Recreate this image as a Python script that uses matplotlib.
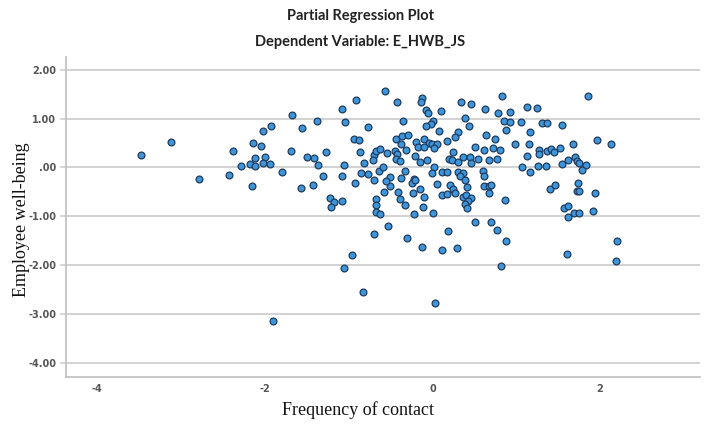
import matplotlib
matplotlib.use("Agg")
import matplotlib.pyplot as plt

# Partial regression residuals: frequency of contact (x) vs employee well-being (y)
freq_contact = [
    -3.48, -3.12, -2.78, -2.42, -2.38, -2.28, -2.15, -2.14, -2.17, -2.12,
    -2.11, -2.04, -2.02, -1.93, -2.00, -2.02, -1.94, -1.79,
    -1.67, -1.55, -1.38, -1.08, -0.91, -1.04, -0.57, -0.42, -0.77, -0.35,
    -1.69, -1.50, -1.41, -1.37, -1.27, -1.31, -1.08, -1.05, -0.94, -0.88,
    -0.86, -0.82, -0.85, -0.77, -0.70, -0.67, -0.62, -0.71, -0.64, -0.59,
    -0.54, -0.44, -0.36, -0.29, -0.37, -0.45, -0.42, -0.43, -0.39, -0.32,
    -0.33, -0.51, -0.38, -0.70,
    -1.57, -1.43, -1.22, -1.17, -1.21, -1.08, -0.92, -0.51, -0.58, -0.41,
    -0.39, -0.33, -0.67, -0.67, -0.67, -0.62, -0.53, -0.70, -0.30, -0.96,
    -1.05, -0.55,
    -1.90, -0.83, 0.03, 0.82,
    -0.12, -0.14, -0.08, -0.05, 0.10, 0.34, 0.46, 0.63, 0.78, 0.83,
    0.93, 1.13, 0.39, 0.01, -0.02, -0.08, 0.08, 0.44, 0.85, 0.93,
    1.06, 0.88, 1.16, 0.31, 0.27, 0.18, -0.19, -0.17, -0.10, -0.04,
    0.00, 0.06, -0.10, 0.02, -0.21, -0.15, -0.06, 0.02, -0.22, 0.12,
    0.17, 0.20, 0.25, 0.23, 0.31, 0.37, 0.31, 0.37, 0.45, 0.51,
    0.54, 0.46, 0.62, 0.64, 0.75, 0.72, 0.81, 0.67, 0.77, 0.98,
    1.13, 1.07, 0.60, 0.61,
    -0.24, -0.21, -0.23, -0.15, -0.10, -0.11, -0.22, 0.01, 0.05, 0.12,
    0.17, 0.21, 0.24, 0.27, 0.00, 0.33, 0.39, 0.41, 0.36, 0.40,
    0.46, 0.43, 0.39, 0.41, 0.61, 0.67, 0.70, 0.68, 0.86, 0.51,
    0.70, 0.77, 0.88, 0.19, -0.12, 0.12, 0.29,
    1.85, 1.25, 1.31, 1.37, 1.55, 1.96, 2.13, 1.15, 1.68, 1.27,
    1.27, 1.37, 1.42, 1.45, 1.52, 1.70, 1.62, 1.73, 1.75, 1.83,
    1.79, 1.54, 1.26, 1.36, 1.17,
    1.40, 1.46, 1.74, 1.72, 1.75, 1.94, 1.57, 1.62, 1.62, 1.69,
    1.75, 1.91, 2.20, 1.61, 2.19,
]
well_being = [
    0.26, 0.53, -0.24, -0.15, 0.34, 0.02, -0.38, 0.50, 0.08, 0.03,
    0.20, 0.43, 0.75, 0.84, 0.22, 0.09, 0.07, -0.10,
    1.08, 0.81, 0.95, 1.19, 1.39, 0.93, 1.57, 1.33, 0.82, 0.96,
    0.34, 0.21, 0.20, 0.05, 0.31, -0.18, -0.17, 0.04, 0.58, 0.56,
    0.31, 0.09, -0.11, -0.13, 0.25, 0.33, 0.37, 0.16, -0.07, 0.00,
    0.29, 0.58, 0.65, 0.66, 0.49, 0.33, 0.27, 0.17, 0.13, 0.35,
    -0.07, -0.19, -0.21, -0.25,
    -0.42, -0.35, -0.63, -0.70, -0.81, -0.68, -0.31, -0.39, -0.50, -0.50,
    -0.65, -0.77, -0.65, -0.76, -0.91, -0.95, -1.20, -1.36, -1.44, -1.80,
    -2.05, -0.27,
    -3.14, -2.56, -2.78, -2.01,
    1.43, 1.34, 1.17, 1.12, 1.15, 1.35, 1.29, 1.19, 1.12, 1.46,
    1.14, 1.24, 1.02, 0.96, 0.88, 0.84, 0.75, 0.84, 0.95, 0.93,
    0.93, 0.76, 0.73, 0.73, 0.63, 0.54, 0.52, 0.42, 0.59, 0.51,
    0.49, 0.47, 0.42, 0.40, 0.23, 0.11, 0.15, 0.00, -0.23, -0.09,
    -0.09, 0.18, 0.32, 0.15, 0.11, 0.22, -0.09, -0.12, 0.22, 0.42,
    0.17, 0.09, 0.35, 0.66, 0.59, 0.39, 0.35, 0.15, 0.17, 0.49,
    0.23, 0.00, -0.07, -0.17,
    -0.32, -0.25, -0.52, -0.45, -0.60, -0.82, -0.95, -0.94, -0.34, -0.57,
    -0.55, -0.36, -0.45, -0.53, -0.11, -0.18, -0.26, -0.41, -0.61, -0.57,
    -0.63, -0.69, -0.74, -0.83, -0.38, -0.38, -0.36, -0.52, -0.67, -1.11,
    -1.11, -1.29, -1.51, -1.30, -1.62, -1.70, -1.64,
    1.46, 1.21, 0.91, 0.90, 0.87, 0.56, 0.48, 0.47, 0.47, 0.35,
    0.28, 0.34, 0.37, 0.31, 0.40, 0.21, 0.15, 0.14, 0.09, 0.04,
    -0.06, 0.07, 0.03, 0.03, -0.10,
    -0.44, -0.36, -0.31, -0.48, -0.48, -0.52, -0.83, -0.79, -1.01, -0.94,
    -0.94, -0.90, -1.50, -1.78, -1.92,
]

x_ticks = [-4, -2, 0, 2]
x_tick_labels = ["-4", "-2", "0", "2"]
y_ticks = [2, 1, 0, -1, -2, -3, -4]
y_tick_labels = ["2.00", "1.00", ".00", "-1.00", "-2.00", "-3.00", "-4.00"]

fig = plt.figure(figsize=(7.09, 4.30), dpi=100)
ax = fig.add_axes([0.0931, 0.1233, 0.894, 0.744])

ax.set_xlim(-4.37, 3.19)
ax.set_ylim(-4.29, 2.26)

ax.set_yticks(y_ticks)
ax.set_yticklabels(y_tick_labels)
ax.set_xticks(x_ticks)
ax.set_xticklabels(x_tick_labels)

ax.grid(axis="y", color="#cfcfcf", linewidth=1.3)
ax.set_axisbelow(True)

ax.scatter(freq_contact, well_being, s=24, c="#3f95da",
           edgecolors="#1e3b5e", linewidths=0.9, zorder=3)

for side in ("top", "right"):
    ax.spines[side].set_visible(False)
for side in ("left", "bottom"):
    ax.spines[side].set_color("#bdbdbd")
    ax.spines[side].set_linewidth(1.2)

ax.tick_params(axis="y", length=4, width=1.2, color="#cfcfcf",
               labelsize=7, labelcolor="#555555", pad=3)
ax.tick_params(axis="x", length=0, labelsize=7, labelcolor="#555555", pad=5)
for lbl in ax.get_xticklabels() + ax.get_yticklabels():
    lbl.set_fontweight("bold")

fig.text(0.508, 0.962, "Partial Regression Plot", ha="center", va="center",
         fontsize=10.5, fontweight="bold", family="Lato", color="#222222")
fig.text(0.508, 0.902, "Dependent Variable: E_HWB_JS", ha="center", va="center",
         fontsize=10.5, fontweight="bold", family="Lato", color="#222222")

fig.text(0.505, 1 - 410 / 430, "Frequency of contact", ha="center", va="center",
         fontsize=13, family="Liberation Serif", color="#111111")
fig.text(0.031, 1 - 220 / 430, "Employee well-being", ha="center", va="center",
         rotation=90, fontsize=13, family="Liberation Serif", color="#111111")

fig.savefig("out.png", dpi=100)
